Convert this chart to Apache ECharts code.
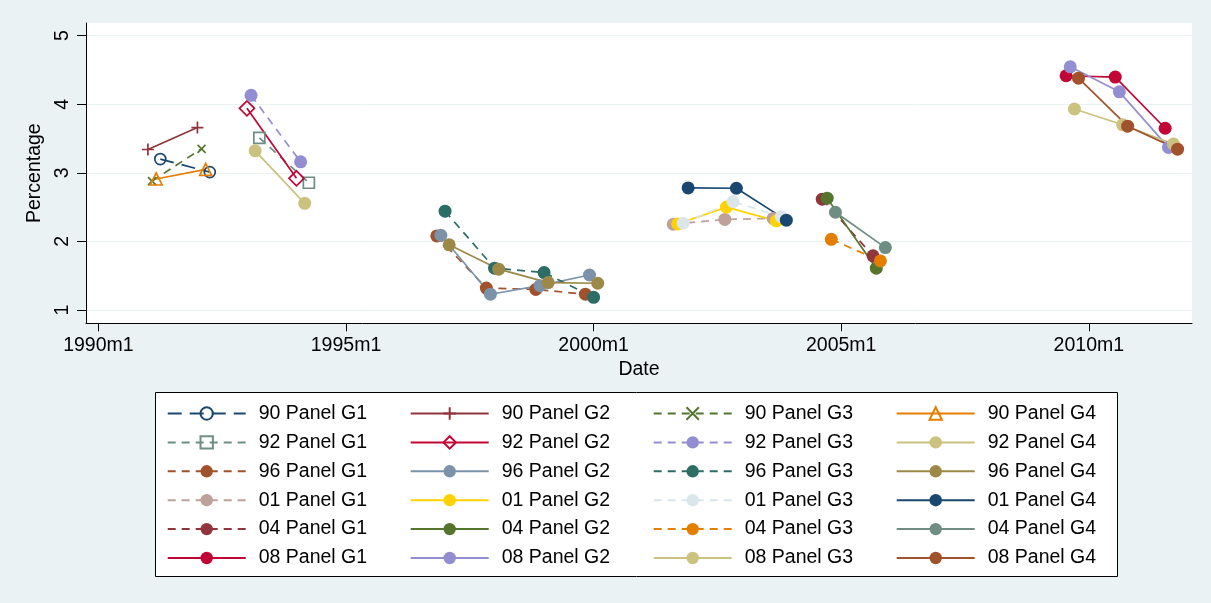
<!DOCTYPE html>
<html><head><meta charset="utf-8">
<script src="https://cdn.jsdelivr.net/npm/echarts@6/dist/echarts.min.js"></script>
<style>html,body{margin:0;padding:0;background:#eaf2f3}#c{width:1211px;height:603px}</style>
</head><body><div id="c"></div>
<script>
// Stata monthly dates (%tm: months since 1960m1)
const waves = ['90', '92', '96', '01', '04', '08'];
const groups = ['G1', 'G2', 'G3', 'G4'];
const xTicks = [360, 420, 480, 540, 600];
const yTicks = [1, 2, 3, 4, 5];

const date90 = [[375, 387], [372, 384], [373, 385], [374, 386]];
const val90  = [[3.20, 3.01], [3.34, 3.66], [2.88, 3.35], [2.91, 3.05]];
const date92 = [[399, 411], [396, 408], [397, 409], [398, 410]];
const val92  = [[3.51, 2.855], [3.94, 2.92], [4.13, 3.16], [3.32, 2.555]];
const date96 = [[442, 454, 466, 478], [443, 455, 467, 479], [444, 456, 468, 480], [445, 457, 469, 481]];
const val96  = [[2.08, 1.32, 1.30, 1.23], [2.09, 1.23, 1.355, 1.51], [2.44, 1.61, 1.545, 1.185], [1.95, 1.595, 1.40, 1.39]];
const date01 = [[499.3, 511.8, 523.5], [500.4, 512.2, 524.3], [501.7, 513.8, 525.5], [502.9, 514.6, 526.7]];
const val01  = [[2.25, 2.32, 2.335], [2.255, 2.50, 2.30], [2.265, 2.58, 2.36], [2.78, 2.775, 2.31]];
const date04 = [[535.4, 547.7], [536.6, 548.5], [537.6, 549.5], [538.6, 550.7]];
const val04  = [[2.615, 1.79], [2.63, 1.61], [2.03, 1.715], [2.425, 1.91]];
const date08 = [[594.5, 606.4, 618.5], [595.5, 607.4, 619.3], [596.5, 608.2, 620.5], [597.5, 609.4, 621.5]];
const val08  = [[4.415, 4.395, 3.65], [4.545, 4.18, 3.37], [3.93, 3.70, 3.42], [4.38, 3.68, 3.345]];

const allDates = [date90, date92, date96, date01, date04, date08];
const allVals = [val90, val92, val96, val01, val04, val08];

const palette = ['#1a476f', '#90353b', '#55752f', '#e37e00', '#6e8e84', '#c10534', '#938dd2', '#cac27e',
  '#a0522d', '#7b92a8', '#2d6d66', '#9c8847', '#bfa19c', '#ffd200', '#dbe6eb'];
const FONT = 'Liberation Sans, Arial, Helvetica, sans-serif';

const markers = {
  0: {symbol: 'circle', size: 11, hollow: true},
  1: {symbol: 'path://M0,6L12,6M6,0L6,12', size: 12, hollow: true},
  2: {symbol: 'path://M0,0L10,10M10,0L0,10', size: 8, hollow: true},
  3: {symbol: 'triangle', size: 12, hollow: true},
  4: {symbol: 'rect', size: 11, hollow: true},
  5: {symbol: 'diamond', size: 15, hollow: true}
};

const series = [];
const names = [];
waves.forEach((w, wi) => {
  groups.forEach((g, gi) => {
    const idx = wi * 4 + gi;
    const col = palette[idx % palette.length];
    const name = w + ' Panel ' + g;
    names.push(name);
    const m = markers[idx] || {symbol: 'circle', size: 13, hollow: false};
    const dashed = (gi === 0 || gi === 2) && w !== '08';
    const lt = idx === 0 ? [14, 8] : (dashed ? [8, 6] : 'solid');
    series.push({
      name: name,
      type: 'line',
      data: allDates[wi][gi].map((d, k) => [d, allVals[wi][gi][k]]),
      symbol: m.symbol,
      symbolSize: m.size,
      showSymbol: true,
      lineStyle: {color: col, width: 1.7, type: lt},
      itemStyle: m.hollow ? {color: 'rgba(0,0,0,0)', borderColor: col, borderWidth: 1.7}
                          : {color: col, borderWidth: 0},
      emphasis: {disabled: true},
      animation: false
    });
  });
});

const fmtTm = v => (1960 + Math.floor(v / 12)) + 'm' + (Math.round(v) % 12 + 1);

const legends = groups.map((g, j) => ({
  data: names.filter((n, i) => i % 4 === j),
  left: 166.7 + 243 * j, top: 403.5, orient: 'vertical', padding: 0,
  itemGap: 8.9, itemWidth: 78, itemHeight: 15.5,
  selectedMode: false,
  textStyle: {fontSize: 19.5, color: '#000', fontFamily: FONT, padding: [0, 0, 0, 8]},
  z: 5
}));

const chart = echarts.init(document.getElementById('c'));
chart.setOption({
  backgroundColor: '#eaf2f3',
  animation: false,
  textStyle: {fontFamily: FONT},
  grid: {left: 86, right: 19, top: 23, bottom: 279.7, show: true, backgroundColor: '#ffffff', borderWidth: 0},
  xAxis: {
    type: 'value', min: 357, max: 625,
    name: 'Date', nameLocation: 'middle', nameGap: 36,
    nameTextStyle: {fontSize: 19.5, color: '#000', fontFamily: FONT},
    axisLine: {show: true, onZero: false, lineStyle: {color: '#000', width: 1}},
    axisTick: {show: true, length: 8, lineStyle: {color: '#000', width: 1}, customValues: xTicks},
    axisLabel: {fontSize: 19.5, color: '#000', margin: 12, fontFamily: FONT, customValues: xTicks, formatter: fmtTm},
    splitLine: {show: false}
  },
  yAxis: {
    type: 'value', min: 0.806, max: 5.184,
    name: 'Percentage', nameLocation: 'middle', nameGap: 35,
    nameTextStyle: {fontSize: 19.5, color: '#000', fontFamily: FONT},
    axisLine: {show: true, onZero: false, lineStyle: {color: '#000', width: 1}},
    axisTick: {show: true, length: 9, lineStyle: {color: '#000', width: 1}, customValues: yTicks},
    axisLabel: {rotate: 90, fontSize: 19.5, color: '#000', margin: 13, fontFamily: FONT, customValues: yTicks, formatter: v => String(v)},
    splitLine: {show: true, lineStyle: {color: '#eaf2f3', width: 1}}
  },
  graphic: [{
    type: 'rect', z: 1,
    shape: {x: 155.5, y: 392.5, width: 962, height: 184},
    style: {fill: '#ffffff', stroke: null}
  }, {
    type: 'rect', z: 20,
    shape: {x: 155.5, y: 392.5, width: 962, height: 184},
    style: {fill: null, stroke: '#000000', lineWidth: 1}
  }],
  legend: legends,
  series: series
});
</script>
</body></html>
